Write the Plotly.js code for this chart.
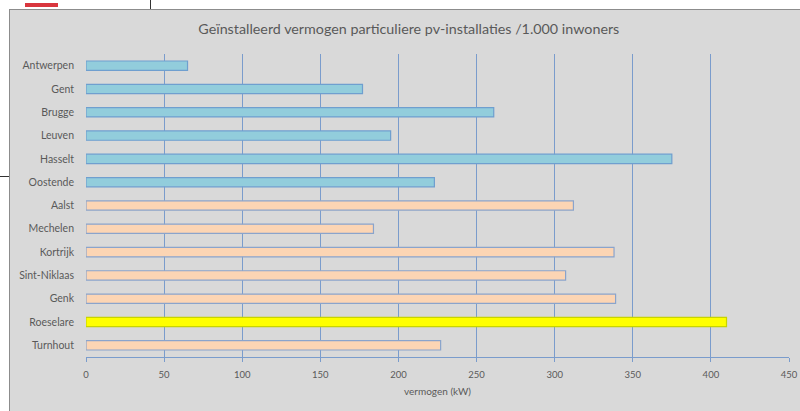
<!DOCTYPE html>
<html>
<head>
<meta charset="utf-8">
<script src="https://cdn.plot.ly/plotly-3.0.1.min.js"></script>
<style>
  html, body { margin:0; padding:0; background:#ffffff; width:800px; height:411px; overflow:hidden; }
  #box { position:absolute; left:9px; top:9px; width:800px; height:410px; background:#d9d9d9; border-left:1px solid #8c8c8c; border-top:1px solid #8c8c8c; }
  #red { position:absolute; left:25px; top:3px; width:33px; height:4px; background:#d9363e; }
  #vline { position:absolute; left:150px; top:0px; width:1px; height:9px; background:#333; }
  #hline { position:absolute; left:0px; top:176px; width:9px; height:1px; background:#333; }
  #chart { position:absolute; left:0; top:0; width:800px; height:411px; }
</style>
</head>
<body>
<div id="red"></div>
<div id="vline"></div>
<div id="hline"></div>
<div id="box"></div>
<div id="chart"></div>
<script>
const cities = ["Antwerpen","Gent","Brugge","Leuven","Hasselt","Oostende","Aalst","Mechelen","Kortrijk","Sint-Niklaas","Genk","Roeselare","Turnhout"];
const vermogen = [65, 177, 261, 195, 375, 223, 312, 184, 338, 307, 339, 410, 227];
const groep = ["centrum","centrum","centrum","centrum","centrum","centrum","regio","regio","regio","regio","regio","highlight","regio"];
const xTicks = [0,50,100,150,200,250,300,350,400,450];

const fillFor = {centrum:"#92cddc", regio:"#fcd5b4", highlight:"#ffff00"};
const lineFor = {centrum:"#6f9fcf", regio:"#8aa4cc", highlight:"#c8d400"};

const trace = {
  type: "bar",
  orientation: "h",
  y: cities,
  x: vermogen,
  width: 0.4,
  marker: {
    color: groep.map(g => fillFor[g]),
    line: { color: groep.map(g => lineFor[g]), width: 1.2 }
  },
  hoverinfo: "x+y"
};

const layout = {
  width: 800, height: 411,
  paper_bgcolor: "rgba(0,0,0,0)",
  plot_bgcolor: "rgba(0,0,0,0)",
  margin: { l: 86, r: 11, t: 54, b: 54 },
  showlegend: false,
  font: { family: "Lato, 'Open Sans', sans-serif", color: "#595959", size: 9 },
  title: {
    text: "Geïnstalleerd vermogen particuliere pv-installaties /1.000 inwoners",
    font: { family: "Lato, 'Open Sans', sans-serif", size: 14.3, color: "#595959" },
    x: 0.511, xanchor: "center",
    yref: "container", y: 1 - 29/411, yanchor: "middle"
  },
  xaxis: {
    range: [0, 450],
    tickvals: xTicks,
    ticktext: xTicks.map(String),
    showgrid: true,
    gridcolor: "#7a9ccc",
    gridwidth: 1,
    zeroline: true,
    zerolinecolor: "#d9d9d9",
    showline: true,
    linecolor: "#7a9ccc",
    linewidth: 1,
    ticks: "outside",
    ticklen: 4,
    tickcolor: "#7a9ccc",
    ticklabelstandoff: 5,
    tickfont: { size: 9.5, color: "#595959" },
    title: { text: "vermogen (kW)", font: { size: 10, color: "#595959" }, standoff: 8 },
    fixedrange: true
  },
  yaxis: {
    type: "category",
    categoryorder: "array",
    categoryarray: cities,
    autorange: "reversed",
    showgrid: false,
    zeroline: false,
    showline: false,
    ticks: "",
    ticklabelstandoff: 11,
    tickfont: { size: 10.5, color: "#595959" },
    fixedrange: true
  }
};

Plotly.newPlot("chart", [trace], layout, { displayModeBar: false, staticPlot: true });
</script>
</body>
</html>
